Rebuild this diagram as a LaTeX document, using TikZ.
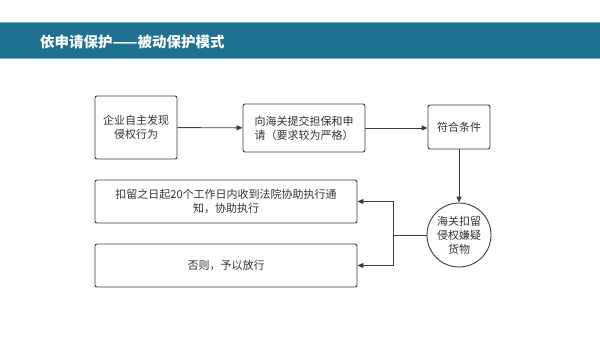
\documentclass[tikz,border=0pt]{standalone}
\usepackage{fontspec}
\setmainfont{Noto Sans CJK SC}
\usepackage{xcolor}
\usepackage{tikz}
\usetikzlibrary{positioning, arrows.meta, calc}

\definecolor{bandblue}{RGB}{30,113,144}
\definecolor{bandedge}{RGB}{120,170,190}
\definecolor{linegray}{RGB}{60,60,60}
\definecolor{textgray}{RGB}{50,50,50}

\begin{document}
\begin{tikzpicture}[x=1bp, y=-1bp,
    flowbox/.style={draw=linegray, line width=0.9bp, rounded corners=2bp, align=center,
      inner sep=2bp, text=textgray, font=\fontsize{11bp}{14bp}\selectfont},
    flowcirc/.style={draw=linegray, line width=0.9bp, circle, align=center,
      inner sep=0pt, minimum size=64bp, text=textgray, font=\fontsize{11bp}{14bp}\selectfont},
    link/.style={draw=linegray, line width=0.9bp, -{Triangle[length=6bp, width=5bp]}}]
      \useasboundingbox (0,0) rectangle (600,336);

      % Title band
      \fill[bandblue] (0,22) rectangle (600,58);
      \draw[bandedge, line width=0.8bp] (0,22) -- (600,22);
      \draw[bandedge, line width=0.8bp] (0,58) -- (600,58);
      \node[anchor=west, inner sep=0pt, text=white, font=\fontsize{14.5bp}{16bp}\selectfont\bfseries] (title) at (40,42) {依申请保护——被动保护模式};

      % Top row
      \node[flowbox, minimum width=82bp, minimum height=63bp] (find) at (136,127.5) {企业自主发现\\侵权行为};
      \node[flowbox, minimum width=122bp, minimum height=48bp] (apply) at (304,128) {向海关提交担保和申\\请（要求较为严格）};
      \node[flowbox, minimum width=62bp, minimum height=44bp] (meet) at (459,127) {符合条件};

      % Detention
      \node[flowcirc] (detain) at (459,235) {海关扣留\\侵权嫌疑\\货物};

      % Outcomes
      \node[flowbox, minimum width=262bp, minimum height=43bp] (court) at (226,201.5) {扣留之日起20个工作日内收到法院协助执行通\\知，协助执行};
      \node[flowbox, minimum width=262bp, minimum height=43bp] (release) at (226,265.5) {否则，予以放行};

      % Connectors
      \draw[link] (find) -- (apply);
      \draw[link] (apply.east) -- (apply.east -| meet.west);
      \draw[link] (meet) -- (detain);
      \coordinate (split) at (393,235);
      \draw[draw=linegray, line width=0.9bp] (detain.west) -- (split);
      \draw[link] (split) |- (court.east);
      \draw[link] (split) |- (release.east);
    \end{tikzpicture}
\end{document}
